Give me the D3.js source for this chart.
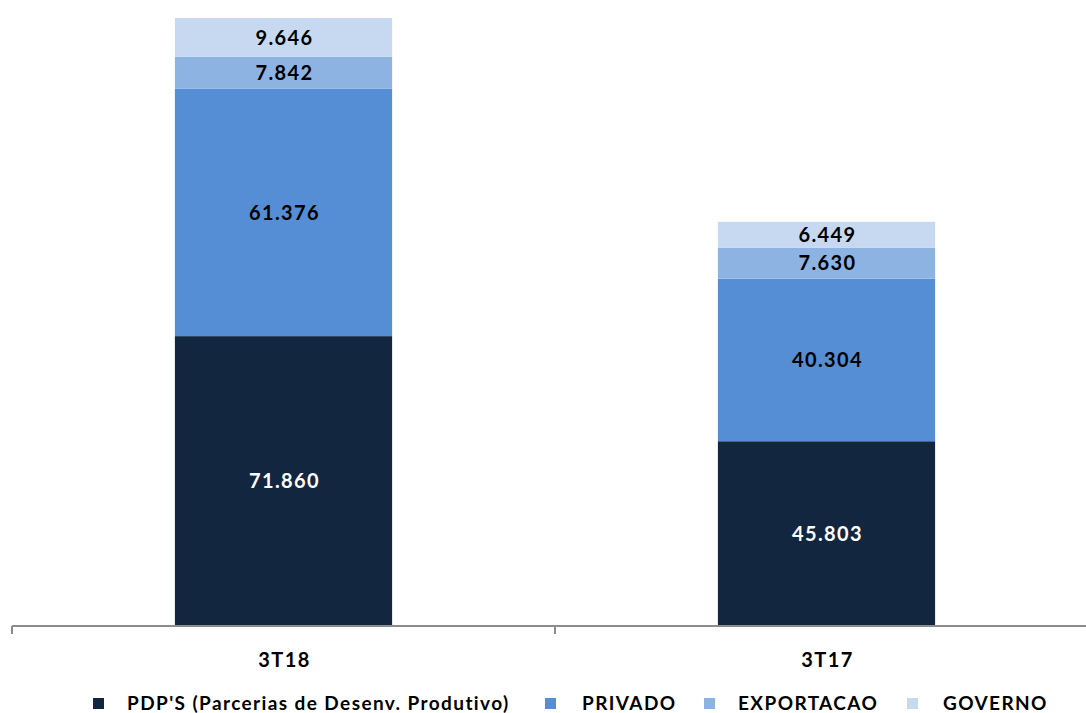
<!DOCTYPE html>
<html><head><meta charset="utf-8">
<script src="https://cdn.jsdelivr.net/npm/d3@7"></script>
<style>body{margin:0;background:#fff}svg{display:block}</style>
</head><body>
<svg id="c" width="1086" height="713"></svg>
<script>
const categories = ["3T18", "3T17"];
const seriesNames = ["PDP'S (Parcerias de Desenv. Produtivo)", "PRIVADO", "EXPORTACAO", "GOVERNO"];
const pdp = [71.860, 45.803];
const privado = [61.376, 40.304];
const exportacao = [7.842, 7.630];
const governo = [9.646, 6.449];
const labels = {pdp:["71.860","45.803"], privado:["61.376","40.304"], exportacao:["7.842","7.630"], governo:["9.646","6.449"]};

const colors = ["#13263f", "#558ed5", "#8db3e2", "#c6d9f1"];
const textColors = ["#ffffff", "#000000", "#000000", "#000000"];
const font = "Lato, 'Open Sans', sans-serif";
const ls = "1.4px";

const svg = d3.select("#c");
const rows = categories.map((c, i) => ({cat: c, s0: pdp[i], s1: privado[i], s2: exportacao[i], s3: governo[i]}));
const keys = ["s0","s1","s2","s3"];
const labelArr = [labels.pdp, labels.privado, labels.exportacao, labels.governo];
const stack = d3.stack().keys(keys)(rows);

const x = d3.scaleBand().domain(categories).range([12, 1098]).paddingInner(0).paddingOuter(0);
const barW = x.bandwidth() * 0.4;
const y = d3.scaleLinear().domain([0, 150.724]).range([626, 18]);

// bars
stack.forEach((layer, li) => {
  const g = svg.append("g");
  g.selectAll("rect").data(layer).join("rect")
    .attr("x", d => x(d.data.cat) + (x.bandwidth() - barW) / 2)
    .attr("width", barW)
    .attr("y", d => y(d[1]))
    .attr("height", d => y(d[0]) - y(d[1]))
    .attr("fill", colors[li]);
  g.selectAll("text").data(layer).join("text")
    .attr("x", d => x(d.data.cat) + x.bandwidth() / 2 + 1)
    .attr("y", d => (y(d[0]) + y(d[1])) / 2)
    .attr("dy", "0.36em")
    .attr("text-anchor", "middle")
    .attr("font-family", font).attr("font-weight", "bold").attr("font-size", 20)
    .style("letter-spacing", ls)
    .attr("fill", textColors[li])
    .text((d, i) => labelArr[li][i]);
});

// axis
const axisG = svg.append("g").attr("transform", "translate(0,626)");
axisG.append("line").attr("x1", 12).attr("x2", 1098).attr("stroke", "#8c8c8c").attr("stroke-width", 2);
const tickPos = [12, ...categories.map(c => x(c) + x.bandwidth())];
axisG.selectAll("line.t").data(tickPos).join("line").attr("class","t")
  .attr("x1", d => d).attr("x2", d => d).attr("y1", 0).attr("y2", 8)
  .attr("stroke", "#8c8c8c").attr("stroke-width", 2);
axisG.selectAll("text").data(categories).join("text")
  .attr("x", d => x(d) + x.bandwidth() / 2 + 1)
  .attr("y", 34).attr("dy", "0.36em").attr("text-anchor", "middle")
  .attr("font-family", font).attr("font-weight", "bold").attr("font-size", 20)
  .style("letter-spacing", ls)
  .attr("fill", "#000").text(d => d);

// legend
const legendSq = [93, 545, 704, 907];
const legendTx = [127, 582, 738, 943];
const leg = svg.append("g");
seriesNames.forEach((n, i) => {
  leg.append("rect").attr("x", legendSq[i]).attr("y", 698).attr("width", 11).attr("height", 11).attr("fill", colors[i]);
  leg.append("text").attr("x", legendTx[i]).attr("y", 703).attr("dy", "0.36em")
    .attr("font-family", font).attr("font-weight", "bold").attr("font-size", 19)
    .style("letter-spacing", ls)
    .attr("fill", "#000").text(n);
});
</script>
</body></html>
